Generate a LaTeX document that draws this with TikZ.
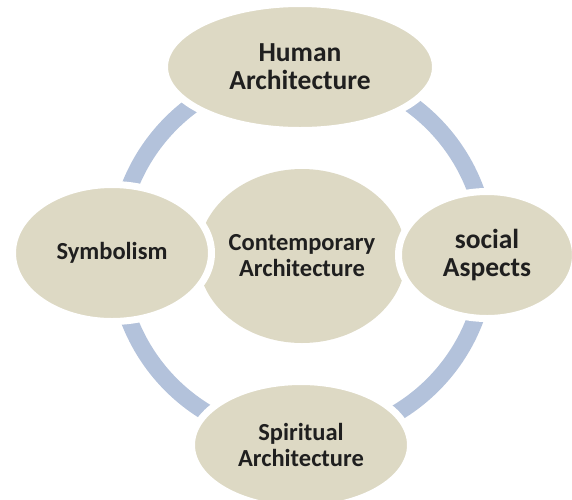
\documentclass[tikz,border=0pt]{standalone}
\usepackage{fontspec}
\setmainfont{Carlito}
\usepackage{xcolor}
\usetikzlibrary{shapes.geometric}
\definecolor{tan}{HTML}{DDD9C4}
\definecolor{ringblue}{HTML}{B3C2DB}
\begin{document}
\begin{tikzpicture}[x=1pt, y=-1pt]
	\tikzstyle{bubble} = [ellipse, fill = tan, draw = white, line width = 7pt, inner sep = 0pt, align = center, text = black!88]
\tikzstyle{bigtext} = [font = \fontsize{27.5}{28}\selectfont\bfseries]
\tikzstyle{smalltext} = [font = \fontsize{24.5}{26}\selectfont\bfseries]
\tikzstyle{ring} = [draw = ringblue, line width = 17pt]
\useasboundingbox (0,0) rectangle (572,499);
\coordinate (mid) at (302,254);
\draw[ring] (mid) circle[radius = 185pt];
\node(hum)[bubble, bigtext, minimum width = 271pt, minimum height = 127pt] at (300,67) {Human\\Architecture};
\node(spi)[bubble, smalltext, minimum width = 219pt, minimum height = 127pt] at (301,445) {Spiritual\\Architecture};
\node(con)[bubble, smalltext, draw = none, minimum width = 208pt, minimum height = 174pt] at (302,256) {Contemporary\\Architecture};
\node(sym)[bubble, smalltext, minimum width = 199pt, minimum height = 137pt] at (112,253) {Symbolism};
\node(soc)[bubble, bigtext, minimum width = 177pt, minimum height = 127pt] at (487,255) {social\\Aspects};
  \end{tikzpicture}
\end{document}
